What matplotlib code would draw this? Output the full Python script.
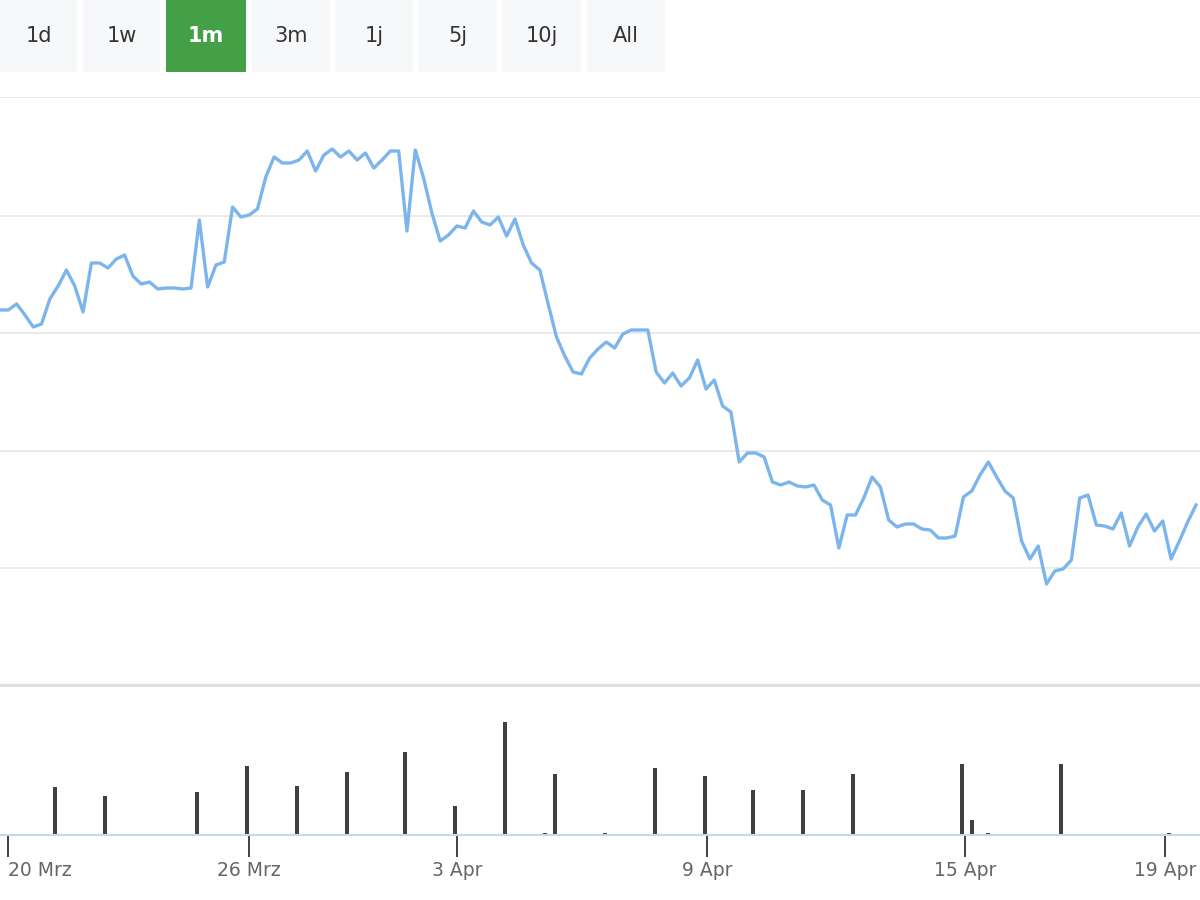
import numpy as np
import matplotlib.pyplot as plt
from matplotlib.patches import Rectangle

# price curve (height in chart units)
price = [375, 375, 381, 370, 358, 361, 386, 399, 415, 399, 373, 422, 422, 417, 426, 430,
         409, 401, 403, 396, 397, 397, 396, 397, 465, 398, 420, 423, 478, 468, 470, 476,
         508, 528, 522, 522, 525, 534, 514, 530, 536, 528, 534, 525, 532, 517, 525, 534,
         534, 454, 535, 507, 472, 444, 450, 459, 457, 474, 463, 460, 468, 449, 466, 440,
         422, 415, 381, 348, 329, 313, 311, 327, 336, 343, 337, 351, 355, 355, 355, 313,
         302, 312, 299, 307, 325, 296, 305, 279, 273, 223, 232, 232, 228, 203, 200, 203,
         199, 198, 200, 185, 180, 137, 170, 170, 187, 208, 198, 165, 158, 161, 161, 156,
         155, 147, 147, 149, 188, 194, 210, 223, 208, 194, 187, 144, 126, 139, 101, 114,
         116, 125, 187, 190, 160, 159, 156, 172, 139, 158, 171, 154, 164, 126, 144, 163, 180]

# volume bars: slot positions and heights
vol_pos = [55, 105, 197, 247, 297, 347, 405, 455, 505, 545, 555, 605, 655, 705, 753, 803,
           853, 962, 972, 988, 1061, 1169]
vol_h = [48, 39, 43, 69, 49, 63, 83, 29, 113, 2, 61, 2, 67, 59, 45, 45, 61, 71, 15, 2, 71, 2]

tick_pos = [8, 249, 457, 707, 965, 1165]
tick_lbl = ["20 Mrz", "26 Mrz", "3 Apr", "9 Apr", "15 Apr", "19 Apr"]

buttons = ["1d", "1w", "1m", "3m", "1j", "5j", "10j", "All"]
btn_x = [0, 83, 166, 252, 335, 418, 502, 587]
btn_w = [77, 77, 80, 78, 78, 79, 79, 78]
active = "1m"

n = len(price)
xs = np.arange(n) * 1196 / (n - 1)

fig = plt.figure(figsize=(12, 9), dpi=100)
W, H = 1200, 900

# buttons
for lbl, bx, bw in zip(buttons, btn_x, btn_w):
    on = lbl == active
    fig.patches.append(Rectangle((bx / W, 1 - 72 / H), bw / W, 72 / H, transform=fig.transFigure,
                                 facecolor="#43a047" if on else "#f7f8fa", edgecolor="none"))
    fig.text((bx + bw / 2) / W, 1 - 36 / H, lbl, ha="center", va="center", fontsize=15,
             color="white" if on else "#333333", fontweight="bold" if on else "normal")

ax = fig.add_axes([0, (H - 685) / H, 1, 588 / H])
ax.plot(xs, price, color="#7cb5ec", lw=2.4, solid_joinstyle="round")
ax.set_xlim(0, 1200)
ax.set_ylim(0, 588)
for g in [117, 234, 352, 469, 588]:
    ax.axhline(g, color="#e6e6e6", lw=1.2, zorder=0)
ax.set_xticks([]); ax.set_yticks([])
for s in ax.spines.values():
    s.set_visible(False)
ax.spines["bottom"].set_visible(True)
ax.spines["bottom"].set_color("#e0e0e0")
ax.spines["bottom"].set_linewidth(2.5)

vx = fig.add_axes([0, (H - 835) / H, 1, 148 / H])
vx.bar(vol_pos, vol_h, width=4, color="#404040")
vx.set_xlim(0, 1200)
vx.set_ylim(0, 148)
vx.set_yticks([])
vx.set_xticks(tick_pos)
vx.set_xticklabels(tick_lbl, fontsize=13.5, color="#666666")
vx.tick_params(axis="x", length=16, width=1.3, color="#333333", pad=3)
labels = vx.get_xticklabels()
labels[0].set_horizontalalignment("left")
labels[0].set_x(0)
for s in vx.spines.values():
    s.set_visible(False)
vx.spines["bottom"].set_visible(True)
vx.spines["bottom"].set_color("#ccd6eb")
vx.spines["bottom"].set_linewidth(1.5)

fig.canvas.draw()
t0 = vx.get_xticklabels()[0]
t0.set_ha("left")
fig.savefig("out.png", dpi=100)
